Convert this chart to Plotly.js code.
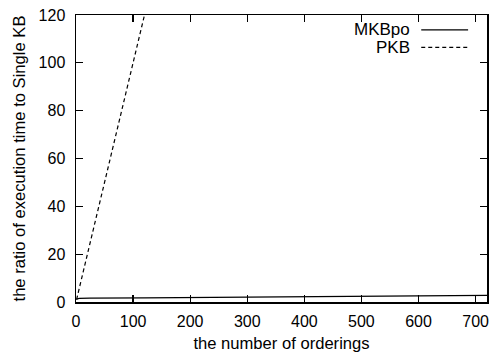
<!DOCTYPE html>
<html>
<head>
<meta charset="utf-8">
<script src="https://cdn.plot.ly/plotly-3.0.1.min.js"></script>
<style>html,body{margin:0;padding:0;background:#fff;}#chart{width:492px;height:358px;}</style>
</head>
<body>
<div id="chart"></div>
<script>
// data
const orderings = [1, 2, 6, 24, 120, 720];
const mkbpo = [1.0, 1.3, 1.5, 1.6, 1.7, 2.8];
const pkb = [1, 2, 6, 24, 120, 720];
const seriesNames = ["MKBpo", "PKB"];
const xTicks = [0, 100, 200, 300, 400, 500, 600, 700];
const yTicks = [0, 20, 40, 60, 80, 100, 120];

const font = "Liberation Sans, Arial, Helvetica, sans-serif";
const traces = [
  {x: orderings, y: mkbpo, name: seriesNames[0], mode: "lines", line: {color: "#000", width: 1.2, dash: "solid"}, showlegend: false},
  {x: orderings, y: pkb, name: seriesNames[1], mode: "lines", line: {color: "#000", width: 1.2, dash: "4px,3px"}, showlegend: false}
];
const axisCommon = {
  showline: true, linecolor: "#000", linewidth: 1.5, mirror: "ticks",
  ticks: "inside", ticklen: 7, tickwidth: 1.2, tickcolor: "#000",
  showgrid: false, zeroline: false, tickfont: {family: font, size: 16, color: "#000"}
};
// legend (samples on the right, gnuplot style)
const legY = [0.948, 0.887];
const annotations = seriesNames.map((n, i) => ({
  xref: "paper", yref: "paper", x: 0.817, y: legY[i], xanchor: "right", yanchor: "middle",
  text: n, showarrow: false, font: {family: font, size: 17, color: "#000"}
}));
const shapes = seriesNames.map((n, i) => ({
  type: "line", xref: "paper", yref: "paper", x0: 0.840, x1: 0.954, y0: legY[i], y1: legY[i],
  line: {color: "#000", width: 1.2, dash: i === 0 ? "solid" : "4px,3px"}
}));
const layout = {
  width: 492, height: 358,
  margin: {l: 76, r: 5, t: 15, b: 56},
  paper_bgcolor: "#fff", plot_bgcolor: "#fff",
  font: {family: font, size: 16, color: "#000"},
  xaxis: Object.assign({}, axisCommon, {range: [0, 720], tickvals: xTicks, ticklabelstandoff: 4,
    title: {text: "the number of orderings", font: {family: font, size: 16.6, color: "#000"}, standoff: 8}}),
  yaxis: Object.assign({}, axisCommon, {range: [0, 120], tickvals: yTicks, ticklabelstandoff: 6,
    title: {text: "the ratio of execution time to Single KB", font: {family: font, size: 16.6, color: "#000"}, standoff: 9}}),
  annotations: annotations,
  shapes: shapes,
  showlegend: false
};
Plotly.newPlot("chart", traces, layout, {staticPlot: true, displayModeBar: false});
</script>
</body>
</html>
